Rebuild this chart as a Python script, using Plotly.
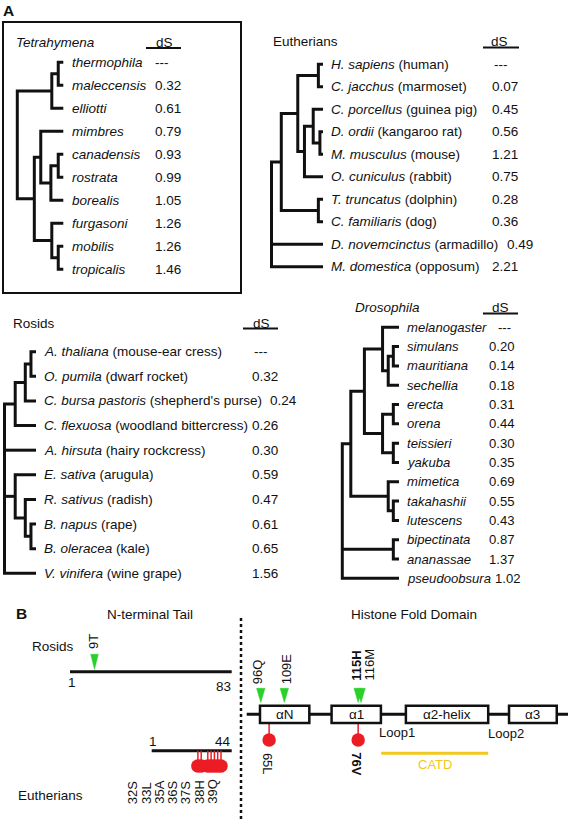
import plotly.graph_objects as go

# ======================= DATA =======================
# ---- Panel A: Tetrahymena ----
tetra_taxa = ["thermophila", "maleccensis", "elliotti", "mimbres", "canadensis",
              "rostrata", "borealis", "furgasoni", "mobilis", "tropicalis"]
tetra_ds = [None, 0.32, 0.61, 0.79, 0.93, 0.99, 1.05, 1.26, 1.26, 1.46]
# topology: (relative node depth 0..1, [children]); leaves = row index
tetra_tree = (0.0, [(0.75, [(0.89, [0, 1]), 2]),
                    (0.37, [(0.51, [3, (0.73, [(0.89, [4, 5]), 6])]),
                            (0.75, [7, (0.89, [8, 9])])])])

# ---- Panel A: Eutherians ----
euth_species = ["H. sapiens", "C. jacchus", "C. porcellus", "D. ordii", "M. musculus",
                "O. cuniculus", "T. truncatus", "C. familiaris", "D. novemcinctus", "M. domestica"]
euth_common = ["human", "marmoset", "guinea pig", "kangaroo rat", "mouse",
               "rabbit", "dolphin", "dog", "armadillo", "opposum"]
euth_ds = [None, 0.07, 0.45, 0.56, 1.21, 0.75, 0.28, 0.36, 0.49, 2.21]
euth_tree = (0.0, [(0.19, [(0.51, [(0.91, [0, 1]),
                                   (0.64, [(0.81, [2, (0.94, [3, 4])]), 5])]),
                           (0.91, [6, 7])]),
                   8, 9])

# ---- Panel A: Rosids ----
rosid_species = ["A. thaliana", "O. pumila", "C. bursa pastoris", "C. flexuosa", "A. hirsuta",
                 "E. sativa", "R. sativus", "B. napus", "B. oleracea", "V. vinifera"]
rosid_common = ["mouse-ear cress", "dwarf rocket", "shepherd's purse", "woodland bittercress",
                "hairy rockcress", "arugula", "radish", "rape", "kale", "wine grape"]
rosid_ds = [None, 0.32, 0.24, 0.26, 0.30, 0.59, 0.47, 0.61, 0.65, 1.56]
rosid_tree = (0.0, [(0.34, [(0.66, [(0.84, [0, 1]), 2]), 3]),
                    4,
                    (0.34, [5, (0.66, [6, (0.84, [7, 8])])]),
                    9])

# ---- Panel A: Drosophila ----
dros_taxa = ["melanogaster", "simulans", "mauritiana", "sechellia", "erecta", "orena",
             "teissieri", "yakuba", "mimetica", "takahashii", "lutescens",
             "bipectinata", "ananassae", "pseudoobsura"]
dros_ds = [None, 0.20, 0.14, 0.18, 0.31, 0.44, 0.30, 0.35, 0.69, 0.55, 0.43, 0.87, 1.37, 1.02]
dros_tree = (0.0, [(0.15, [(0.39, [(0.71, [0, (0.81, [(0.90, [1, 2]), 3])]),
                                   (0.71, [(0.90, [4, 5]), (0.90, [6, 7])])]),
                           (0.81, [8, (0.90, [9, 10])])]),
                   (0.90, [11, 12]),
                   13])

# ---- Panel B ----
rosid_tail_len = 83
rosid_tail_sites = ["9T"]
euth_tail_len = 44
euth_tail_sites = [32, 33, 35, 36, 37, 38, 39]
euth_tail_labels = ["32S", "33L", "35A", "36S", "37S", "38H", "39Q"]
hfd_domains = ["\u03b1N", "\u03b11", "\u03b12-helix", "\u03b13"]
hfd_green_labels = ["96Q", "109E", "115H", "116M"]
hfd_green_bold = [False, False, True, False]
hfd_red_labels = ["65L", "76V"]
hfd_red_bold = [False, True]
loop_labels = ["Loop1", "Loop2"]
catd_label = "CATD"

# ======================= STYLE / LAYOUT =======================
FONT = "Liberation Sans, Arial, Helvetica, sans-serif"
FS = 13.5
BLACK = "#111111"
GREEN = "#2ad12a"
RED = "#ec1c24"
GOLD = "#f2c81e"
W, H = 568, 820

ann = []
line_x, line_y = [], []


def text(x, y, s, size=FS, xanchor="left", yanchor="middle", angle=0, color=BLACK):
    ann.append(dict(x=x, y=y, text=s, showarrow=False, xanchor=xanchor, yanchor=yanchor,
                    textangle=angle, font=dict(family=FONT, size=size, color=color),
                    xref="x", yref="y", borderpad=0))


def seg(pts):
    for p in pts:
        line_x.append(p[0])
        line_y.append(p[1])
    line_x.append(None)
    line_y.append(None)


def draw_tree(node, cfg):
    if isinstance(node, int):
        return cfg["tip_x"], cfg["y0"] + node * cfg["dy"]
    depth, children = node
    x = cfg["root_x"] + depth * (cfg["tip_x"] - cfg["root_x"])
    pts = [draw_tree(c, cfg) for c in children]
    (x0, y0), (x1, y1) = pts[0], pts[-1]
    seg([(x0, y0), (x, y0), (x, y1), (x1, y1)])
    for cx, cy in pts[1:-1]:
        seg([(x, cy), (cx, cy)])
    return x, (y0 + y1) / 2


def fmt(v):
    return "---" if v is None else f"{v:.2f}"


trees = [
    dict(tree=tetra_tree, labels=[f"<i>{t}</i>" for t in tetra_taxa], ds=tetra_ds, fs=13.5,
         root_x=17.3, tip_x=63.3, y0=62.3, dy=23.0, label_x=70.5, ds_x=154, ds_shift={},
         title="<i>Tetrahymena</i>", title_x=14.5, title_y=42.3,
         dsh_x=164, dsh_y=42, ul=(146, 181, 48)),
    dict(tree=euth_tree, fs=13.5,
         labels=[f"<i>{s}</i> ({c})" for s, c in zip(euth_species, euth_common)], ds=euth_ds,
         root_x=271.5, tip_x=323, y0=64.3, dy=22.5, label_x=330, ds_x=490.5, ds_shift={0: 493, 8: 506},
         title="Eutherians", title_x=271.5, title_y=41.7,
         dsh_x=499.5, dsh_y=41.5, ul=(483, 519, 47.5)),
    dict(tree=rosid_tree, fs=13.5,
         labels=[f"<i>{s}</i> ({c})" for s, c in zip(rosid_species, rosid_common)], ds=rosid_ds,
         root_x=4.5, tip_x=36, y0=351.7, dy=24.62, label_x=43, ds_x=250.5, ds_shift={0: 252.5, 2: 269},
         title="Rosids", title_x=12, title_y=323.3,
         dsh_x=261.5, dsh_y=323, ul=(243, 278, 328.5)),
    dict(tree=dros_tree, labels=[f"<i>{t}</i>" for t in dros_taxa], ds=dros_ds, fs=13.1,
         root_x=342.3, tip_x=399, y0=327.3, dy=19.31, label_x=405.5, ds_x=487.5, ds_shift={0: 497, 13: 494},
         title="<i>Drosophila</i>", title_x=354, title_y=307.3,
         dsh_x=500.5, dsh_y=307.3, ul=(483, 518, 313.5)),
]

fig = go.Figure()

for cfg in trees:
    draw_tree(cfg["tree"], cfg)
    for i, lab in enumerate(cfg["labels"]):
        y = cfg["y0"] + i * cfg["dy"]
        text(cfg["label_x"], y, lab, size=cfg["fs"])
        text(cfg["ds_shift"].get(i, cfg["ds_x"]), y, fmt(cfg["ds"][i]), size=cfg["fs"])
    text(cfg["title_x"], cfg["title_y"], cfg["title"])
    text(cfg["dsh_x"], cfg["dsh_y"], "dS", xanchor="center")
    ux0, ux1, uy = cfg["ul"]
    fig.add_trace(go.Scatter(x=[ux0, ux1], y=[uy, uy], mode="lines",
                             line=dict(color=BLACK, width=2), hoverinfo="skip", showlegend=False))

fig.add_trace(go.Scatter(x=line_x, y=line_y, mode="lines",
                         line=dict(color=BLACK, width=3), hoverinfo="skip", showlegend=False))

# Tetrahymena frame
fig.add_shape(type="rect", x0=3, y0=22, x1=241, y1=293, line=dict(color=BLACK, width=2),
              layer="below")

text(2, 10.5, "<b>A</b>", size=15.5)
text(15, 613, "<b>B</b>", size=15.5)

# ---------------- Panel B ----------------
text(150, 614, "N-terminal Tail", xanchor="center")
text(413.5, 614, "Histone Fold Domain", xanchor="center")

# dotted divider
fig.add_trace(go.Scatter(x=[241, 241], y=[618, 822], mode="lines",
                         line=dict(color=BLACK, width=2.5, dash="dot"),
                         hoverinfo="skip", showlegend=False))

# Rosid tail
RT = dict(x0=70, x1=231.7, y=671.7)
text(31, 646.7, "Rosids")
bx, by = [], []
bx += [RT["x0"], RT["x1"], None]
by += [RT["y"], RT["y"], None]
text(RT["x0"] + 2, 682, str(1), xanchor="center")
text(RT["x1"], 686, str(rosid_tail_len), xanchor="right")

# Eutherian tail
ET = dict(x0=151.7, x1=231.7, y=750.7)
text(16.5, 795, "Eutherians")
bx += [ET["x0"], ET["x1"], None]
by += [ET["y"], ET["y"], None]
text(ET["x0"] + 1, 741, str(1), xanchor="center")
text(ET["x1"], 741, str(euth_tail_len), xanchor="right")

# Histone fold domain backbone (schematic units 0..100)
HF = dict(x0=246.7, scale=3.203, y=714.3, box_h=17.3)


def hx(u):
    return HF["x0"] + u * HF["scale"]


bx += [hx(0), W, None]
by += [HF["y"], HF["y"], None]
fig.add_trace(go.Scatter(x=bx, y=by, mode="lines", line=dict(color=BLACK, width=3),
                         hoverinfo="skip", showlegend=False))

dom_spans = [(4.15, 19.55), (26.5, 41.9), (49.7, 75.4), (81.9, 96.8)]
for name, (u0, u1) in zip(hfd_domains, dom_spans):
    fig.add_shape(type="rect", x0=hx(u0), x1=hx(u1), y0=HF["y"] - HF["box_h"] / 2,
                  y1=HF["y"] + HF["box_h"] / 2, line=dict(color=BLACK, width=2.5),
                  fillcolor="white", layer="above")
    text((hx(u0) + hx(u1)) / 2, HF["y"] + 0.5, name, xanchor="center")

# loops and CATD
for lab, u, yy in zip(loop_labels, [46.9, 80.9], [732.5, 733.5]):
    text(hx(u), yy, lab, xanchor="center", size=13)
catd_span = (42.0, 75.4)
fig.add_trace(go.Scatter(x=[hx(catd_span[0]), hx(catd_span[1])], y=[753.3, 753.3], mode="lines",
                         line=dict(color=GOLD, width=3), hoverinfo="skip", showlegend=False))
text((hx(catd_span[0]) + hx(catd_span[1])) / 2, 764.7, catd_label, xanchor="center", color=GOLD, size=13)

# green triangles (sites)
tri_x, tri_y = [], []


def tri(xc, top, bot, hw=4):
    tri_x.extend([xc - hw, xc + hw, xc, xc - hw, None])
    tri_y.extend([top, top, bot, top, None])


tri(94.5, 654.3, 669.5, hw=3.8)
text(93.5, 650, rosid_tail_sites[0], xanchor="center", yanchor="bottom", angle=-90, size=13)

green_u = [4.4, 11.75, 34.8, 35.7]
green_lab_dx = [-3.5, 2, -2.5, 7.5]
green_lab_bottom = [685.5, 685.5, 682, 682]
for lab, u, dx, yb, bold in zip(hfd_green_labels, green_u, green_lab_dx, green_lab_bottom, hfd_green_bold):
    tri(hx(u), 688.3, 702.5, hw=4.2)
    text(hx(u) + dx, yb, f"<b>{lab}</b>" if bold else lab, xanchor="center", yanchor="bottom",
         angle=-90, size=13)

fig.add_trace(go.Scatter(x=tri_x, y=tri_y, mode="lines", fill="toself", fillcolor=GREEN,
                         line=dict(color=GREEN, width=0.5), hoverinfo="skip", showlegend=False))

# red lollipops
stem_x, stem_y, dot_x, dot_y = [], [], [], []
# eutherian tail: residue -> x
et_scale = 3.3
et_ref_res, et_ref_x = 39, 221.0
for res in euth_tail_sites:
    x = et_ref_x - (et_ref_res - res) * et_scale
    stem_x += [x, x, None]
    stem_y += [ET["y"], 766, None]
    dot_x.append(x)
    dot_y.append(766)
n = len(euth_tail_labels)
for i, lab in enumerate(euth_tail_labels):
    text(212.3 - (n - 1 - i) * 13.27, 805, lab, xanchor="center", yanchor="bottom", angle=-90, size=13)

red_u = [7.0, 34.8]
for lab, u, bold in zip(hfd_red_labels, red_u, hfd_red_bold):
    x = hx(u)
    stem_x += [x, x, None]
    stem_y += [HF["y"] + HF["box_h"] / 2, 740, None]
    dot_x.append(x)
    dot_y.append(740)
    text(x - 1.5, 751.5, f"<b>{lab}</b>" if bold else lab, xanchor="center", yanchor="top",
         angle=90, size=13)

fig.add_trace(go.Scatter(x=stem_x, y=stem_y, mode="lines", line=dict(color=RED, width=1.5),
                         hoverinfo="skip", showlegend=False))
fig.add_trace(go.Scatter(x=dot_x, y=dot_y, mode="markers",
                         marker=dict(color=RED, size=13.5, line=dict(width=0)),
                         hoverinfo="skip", showlegend=False))

fig.update_layout(
    width=W, height=H, margin=dict(l=0, r=0, t=0, b=0),
    paper_bgcolor="white", plot_bgcolor="white",
    xaxis=dict(range=[0, W], visible=False, fixedrange=True),
    yaxis=dict(range=[H, 0], visible=False, fixedrange=True),
    annotations=ann, showlegend=False,
)

fig.write_html("out.html", config={"displayModeBar": False},
               post_script="document.body.style.margin='0';")
